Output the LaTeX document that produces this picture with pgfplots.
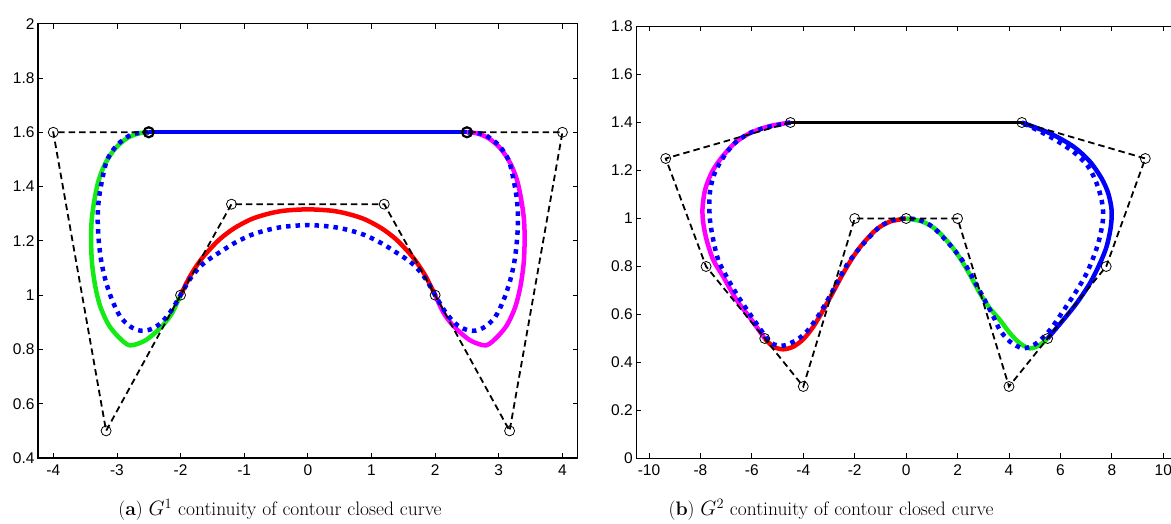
\documentclass[border=0pt]{standalone}
\usepackage{pgfplots}
\pgfplotsset{compat=1.18}
\usepackage{fontspec}
\newfontfamily\arialfont{Liberation Sans}
\definecolor{mgreen}{RGB}{20,235,20}
\definecolor{mblue}{RGB}{0,0,255}
\definecolor{mred}{RGB}{255,0,0}
\definecolor{mmag}{RGB}{255,0,255}

\pgfplotsset{
  matstyle/.style={
    scale only axis, anchor=south west,
    axis line style={line width=1.1pt},
    tick style={line width=0.8pt, black},
    major tick length=5pt, tick align=inside,
    tick label style={font=\arialfont\fontsize{15.5}{15.5}\selectfont},
    xticklabel style={yshift=-3pt},
    /pgf/number format/assume math mode=true,
  },
  curve/.style={line width=4.5pt, line join=round, smooth},
  dotb/.style={mblue, line width=4.5pt, dash pattern=on 4.5pt off 5pt, smooth},
  ctrl/.style={black, line width=1.8pt, dash pattern=on 6.5pt off 4pt,
    mark=o, mark size=5pt, mark options={solid, line width=0.8pt, fill=none}},
}

\begin{document}
\begin{tikzpicture}[x=1pt,y=1pt]

% (a) G1 closed curve
\begin{axis}[matstyle, at={(38pt,66pt)}, width=539.7pt, height=434.3pt,
  xmin=-4.24, xmax=4.24, ymin=0.4, ymax=2,
  xtick={-4,-3,-2,-1,0,1,2,3,4},
  ytick={0.4,0.6,0.8,1,1.2,1.4,1.6,1.8,2}]
  \addplot[curve, mblue, line width=4pt] coordinates {(-2.5,1.6) (2.5,1.6)};
  \addplot[curve, mgreen] coordinates {
    (-2.5,1.6) (-2.657,1.596) (-2.84,1.578) (-3.024,1.541) (-3.181,1.486)
    (-3.286,1.424) (-3.354,1.35) (-3.396,1.277) (-3.406,1.203) (-3.391,1.117)
    (-3.339,1.031) (-3.26,0.957) (-3.129,0.89) (-2.971,0.845) (-2.8,0.815)
    (-2.578,0.83) (-2.42,0.857) (-2.263,0.893) (-2.131,0.935) (-2,1)};
  \addplot[curve, mred] coordinates {
    (-2,1) (-1.85,1.07) (-1.685,1.129) (-1.528,1.172) (-1.37,1.209)
    (-1.16,1.246) (-0.898,1.279) (-0.635,1.299) (-0.373,1.311) (0,1.316)
    (0.373,1.311) (0.635,1.299) (0.898,1.279) (1.16,1.246) (1.37,1.209)
    (1.528,1.172) (1.685,1.129) (1.85,1.07) (2,1)};
  \addplot[curve, mmag] coordinates {
    (2.5,1.6) (2.657,1.596) (2.84,1.578) (3.024,1.541) (3.181,1.486)
    (3.286,1.424) (3.354,1.35) (3.396,1.277) (3.406,1.203) (3.391,1.117)
    (3.339,1.031) (3.26,0.957) (3.129,0.89) (2.971,0.845) (2.8,0.815)
    (2.578,0.83) (2.42,0.857) (2.263,0.893) (2.131,0.935) (2,1)};
  \addplot[dotb] coordinates {
    (-2.5,1.6) (-2.65,1.597) (-2.787,1.59) (-2.997,1.553) (-3.154,1.498)
    (-3.233,1.424) (-3.286,1.35) (-3.302,1.277) (-3.286,1.203) (-3.249,1.129)
    (-3.181,1.056) (-3.076,0.982) (-2.945,0.92) (-2.787,0.884) (-2.63,0.869)
    (-2.472,0.874) (-2.315,0.896) (-2.157,0.939) (-2,1)
    (-1.85,1.06) (-1.685,1.107) (-1.528,1.136) (-1.37,1.16) (-1.16,1.191)
    (-0.898,1.221) (-0.635,1.24) (-0.373,1.252) (0,1.258)
    (0.373,1.252) (0.635,1.24) (0.898,1.221) (1.16,1.191) (1.37,1.16)
    (1.528,1.136) (1.685,1.107) (1.85,1.06) (2,1)
    (2.157,0.939) (2.315,0.896) (2.472,0.874) (2.63,0.869) (2.787,0.884)
    (2.945,0.92) (3.076,0.982) (3.181,1.056) (3.249,1.129) (3.286,1.203)
    (3.302,1.277) (3.286,1.35) (3.233,1.424) (3.154,1.498) (2.997,1.553)
    (2.787,1.59) (2.65,1.597) (2.5,1.6)};
  \addplot[ctrl] coordinates {
    (-2.5,1.6) (-4,1.6) (-3.17,0.5) (-2,1) (-1.2,1.335) (1.2,1.335)
    (2,1) (3.17,0.5) (4,1.6) (2.5,1.6)};
  \addplot[only marks, mark=o, mark size=5pt, mark options={line width=2.2pt, black}]
    coordinates {(-2.5,1.6) (2.5,1.6)};
\end{axis}

% (b) G2 closed curve
\begin{axis}[matstyle, at={(636.3pt,65.5pt)}, width=539.7pt, height=432pt,
  xmin=-10.494, xmax=10.494, ymin=0, ymax=1.8,
  xtick={-10,-8,-6,-4,-2,0,2,4,6,8,10},
  ytick={0,0.2,0.4,0.6,0.8,1,1.2,1.4,1.6,1.8}]
  \addplot[curve, black, line width=3pt] coordinates {(-4.5,1.4) (4.5,1.4)};
  \addplot[curve, mmag] coordinates {
    (-4.5,1.4) (-5.296,1.385) (-6.07,1.356) (-6.656,1.315) (-7.16,1.256)
    (-7.55,1.194) (-7.82,1.119) (-7.92,1.04) (-7.888,0.98)
    (-7.757,0.91) (-7.5,0.827) (-7.11,0.757) (-6.59,0.66) (-6.007,0.577)
    (-5.5,0.5)};
  \addplot[curve, mred] coordinates {
    (-5.5,0.5) (-5.167,0.466) (-4.78,0.455) (-4.39,0.466) (-4.0,0.497)
    (-3.612,0.549) (-3.223,0.619) (-2.834,0.695) (-2.445,0.772) (-2.057,0.841)
    (-1.668,0.897) (-1.15,0.955) (-0.63,0.987) (0,1)};
  \addplot[curve, mgreen] coordinates {
    (0,1) (0.63,0.987) (1.15,0.955) (1.668,0.897) (2.057,0.841) (2.445,0.772)
    (2.834,0.695) (3.223,0.63) (3.647,0.577) (4.036,0.522) (4.425,0.48)
    (4.81,0.459) (5.2,0.473) (5.5,0.5)};
  \addplot[curve, mblue] coordinates {
    (5.5,0.5) (6.108,0.577) (6.63,0.647) (7.146,0.73) (7.535,0.813)
    (7.795,0.883) (7.96,0.966) (7.99,1.035) (7.858,1.105) (7.6,1.167)
    (7.146,1.237) (6.5,1.3) (5.59,1.355) (4.5,1.4)};
  \addplot[dotb] coordinates {
    (-4.5,1.4) (-5.5,1.378) (-6.1,1.355) (-6.6,1.32) (-6.98,1.275)
    (-7.28,1.225) (-7.48,1.18) (-7.6,1.13) (-7.655,1.077) (-7.63,0.994)
    (-7.5,0.91) (-7.306,0.827) (-6.98,0.757) (-6.528,0.674) (-6.007,0.591)
    (-5.556,0.522) (-5.23,0.48) (-4.78,0.47) (-4.26,0.494) (-3.87,0.528)
    (-3.48,0.584) (-3.09,0.653) (-2.7,0.73) (-2.31,0.806) (-1.925,0.862)
    (-1.536,0.91) (-1.02,0.966) (-0.5,0.994) (0,1)
    (0.5,0.994) (1.02,0.966) (1.536,0.91) (1.925,0.862) (2.31,0.806)
    (2.7,0.73) (3.09,0.653) (3.4,0.59) (3.647,0.535) (4.036,0.487)
    (4.553,0.459) (5.07,0.48) (5.59,0.535) (6.046,0.605) (6.563,0.688)
    (7.02,0.772) (7.34,0.855) (7.535,0.924) (7.664,1.007) (7.6,1.077)
    (7.406,1.147) (7.08,1.216) (6.5,1.278) (5.59,1.341) (4.5,1.4)};
  \addplot[ctrl] coordinates {
    (-4.5,1.4) (-9.35,1.25) (-7.78,0.8) (-5.5,0.5) (-4,0.3) (-2,1) (0,1)
    (2,1) (4,0.3) (5.5,0.5) (7.78,0.8) (9.3,1.25) (4.5,1.4)};
\end{axis}

\node[anchor=base, font=\fontsize{19.5}{19.5}\selectfont] at (280pt,8pt)
  {(\textbf{a}) $G^1$ continuity of contour closed curve};
\node[anchor=base, font=\fontsize{19.5}{19.5}\selectfont] at (831pt,8pt)
  {(\textbf{b}) $G^2$ continuity of contour closed curve};

\pgfresetboundingbox
\useasboundingbox (0,0) rectangle (1171pt,524pt);
\end{tikzpicture}
\end{document}
